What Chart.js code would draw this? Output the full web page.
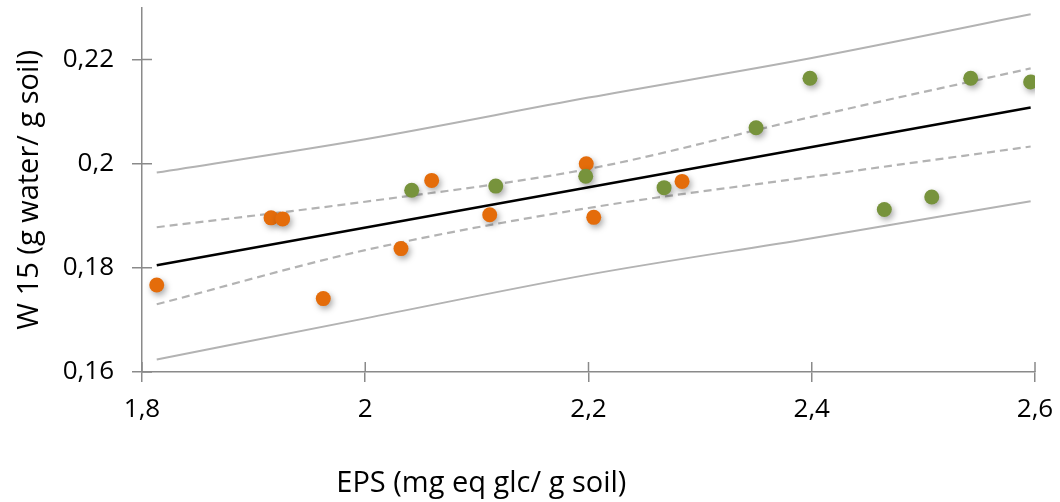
<!DOCTYPE html>
<html>
<head>
<meta charset="utf-8">
<script src="https://cdn.jsdelivr.net/npm/chart.js@4.4.1/dist/chart.umd.min.js"></script>
<style>
  html, body { margin: 0; padding: 0; background: #fff; }
  #wrap { width: 1060px; height: 502px; position: relative; }
</style>
</head>
<body>
<div id="wrap"><canvas id="chart"></canvas></div>
<script>
// valores
const orangeX = [1.8132, 1.9156, 1.9260, 1.9624, 2.0320, 2.0595, 2.1115, 2.1980, 2.2047, 2.2838];
const orangeY = [0.1767, 0.1896, 0.1894, 0.1741, 0.1837, 0.1968, 0.1902, 0.2000, 0.1897, 0.1966];

const greenX = [2.0416, 2.1169, 2.1975, 2.2677, 2.3501, 2.3984, 2.4650, 2.5075, 2.5424, 2.5961];
const greenY = [0.1949, 0.1957, 0.1976, 0.1954, 0.2069, 0.2164, 0.1912, 0.1936, 0.2164, 0.2157];

// reta de regressão
const regX = [1.8132, 2.5961];
const regY = [0.1805, 0.2108];

// bandas (confiança tracejada, predição contínua)
const bandX = [1.8132, 2.0, 2.2, 2.4, 2.5961];
const upperPred = [0.1983, 0.2047, 0.2127, 0.2203, 0.2287];
const lowerPred = [0.1624, 0.1703, 0.1787, 0.1857, 0.1928];
const upperConf = [0.1878, 0.1927, 0.1990, 0.2090, 0.2183];
const lowerConf = [0.1730, 0.1834, 0.1915, 0.1975, 0.2033];

const xTicks = [1.8, 2.0, 2.2, 2.4, 2.6];
const yTicks = [0.16, 0.18, 0.20, 0.22];

const xTitle = 'EPS (mg eq glc/ g soil)';
const yTitle = 'W 15 (g water/ g soil)';

const toPts = (xs, ys) => xs.map((x, i) => ({ x: x, y: ys[i] }));
const fmt = v => String(Math.round(v * 100) / 100).replace('.', ',');

const AXIS_COLOR = '#8a8a8a';
const BAND_COLOR = '#b3b3b3';
const FONT = "'Open Sans', sans-serif";

// sombra suave nos pontos
const shadowPlugin = {
    id: 'pointShadow',
    beforeDatasetDraw(chart, args) {
        if (args.meta.type !== 'scatter') return;
        const ctx = chart.ctx;
        ctx.save();
        ctx.shadowColor = 'rgba(0,0,0,0.35)';
        ctx.shadowBlur = 6;
        ctx.shadowOffsetX = 2;
        ctx.shadowOffsetY = 3;
    },
    afterDatasetDraw(chart, args) {
        if (args.meta.type !== 'scatter') return;
        chart.ctx.restore();
    }
};

// marcas de escala que cruzam o eixo (parte interna)
const innerTicks = {
    id: 'innerTicks',
    beforeDatasetsDraw(chart) {
        const { ctx, scales: { x, y } } = chart;
        ctx.save();
        ctx.strokeStyle = AXIS_COLOR;
        ctx.lineWidth = 1.5;
        ctx.beginPath();
        xTicks.forEach(v => {
            const px = x.getPixelForValue(v);
            ctx.moveTo(px, y.bottom);
            ctx.lineTo(px, y.bottom - 10);
        });
        yTicks.forEach(v => {
            const py = y.getPixelForValue(v);
            ctx.moveTo(x.left, py);
            ctx.lineTo(x.left + 10, py);
        });
        ctx.stroke();
        ctx.restore();
    }
};

// títulos dos eixos
const axisTitles = {
    id: 'axisTitles',
    afterDraw(chart) {
        const { ctx, chartArea } = chart;
        ctx.save();
        ctx.fillStyle = '#000';
        ctx.font = `29px ${FONT}`;
        ctx.textAlign = 'center';
        ctx.textBaseline = 'middle';
        ctx.fillText(xTitle, chartArea.left + (chartArea.right - chartArea.left) * 0.38, 484);
        ctx.translate(30, (chartArea.top + chartArea.bottom) / 2);
        ctx.rotate(-Math.PI / 2);
        ctx.fillText(yTitle, 0, 0);
        ctx.restore();
    }
};

const lineDs = (data, color, width, dash) => ({
    type: 'line',
    data: data,
    borderColor: color,
    borderWidth: width,
    borderDash: dash || [],
    pointRadius: 0,
    cubicInterpolationMode: 'monotone',
    fill: false
});

new Chart(document.getElementById('chart'), {
    type: 'scatter',
    data: {
        datasets: [
            {
                label: 'green',
                data: toPts(greenX, greenY),
                backgroundColor: '#77933c',
                borderWidth: 0,
                pointRadius: 7.5
            },
            {
                label: 'orange',
                data: toPts(orangeX, orangeY),
                backgroundColor: '#e46c0a',
                borderWidth: 0,
                pointRadius: 7.5
            },
            lineDs(toPts(regX, regY), '#000000', 2.5),
            lineDs(toPts(bandX, upperConf), BAND_COLOR, 2.2, [8, 5]),
            lineDs(toPts(bandX, lowerConf), BAND_COLOR, 2.2, [8, 5]),
            lineDs(toPts(bandX, upperPred), BAND_COLOR, 2),
            lineDs(toPts(bandX, lowerPred), BAND_COLOR, 2)
        ]
    },
    options: {
        responsive: true,
        maintainAspectRatio: false,
        animation: false,
        layout: { padding: { top: 7, right: 25, left: 0, bottom: 0 } },
        plugins: {
            legend: { display: false },
            tooltip: { enabled: false }
        },
        scales: {
            x: {
                type: 'linear',
                min: 1.8,
                max: 2.6,
                afterBuildTicks: s => { s.ticks = xTicks.map(v => ({ value: v })); },
                afterFit: s => { s.height = 130; s.paddingLeft = 0; s.paddingRight = 0; },
                border: { color: AXIS_COLOR, width: 1.5 },
                grid: { drawOnChartArea: false, color: AXIS_COLOR, lineWidth: 1.5, tickLength: 10 },
                ticks: {
                    color: '#000',
                    font: { family: FONT, size: 26 },
                    padding: 12,
                    maxRotation: 0,
                    callback: v => fmt(v)
                }
            },
            y: {
                type: 'linear',
                min: 0.16,
                max: 0.23,
                afterBuildTicks: s => { s.ticks = yTicks.map(v => ({ value: v })); },
                afterFit: s => { s.width = 142; s.paddingTop = 0; s.paddingBottom = 0; },
                border: { color: AXIS_COLOR, width: 1.5 },
                grid: { drawOnChartArea: false, color: AXIS_COLOR, lineWidth: 1.5, tickLength: 10 },
                ticks: {
                    color: '#000',
                    font: { family: FONT, size: 26 },
                    padding: 18,
                    callback: v => fmt(v)
                }
            }
        }
    },
    plugins: [shadowPlugin, innerTicks, axisTitles]
});
</script>
</body>
</html>
